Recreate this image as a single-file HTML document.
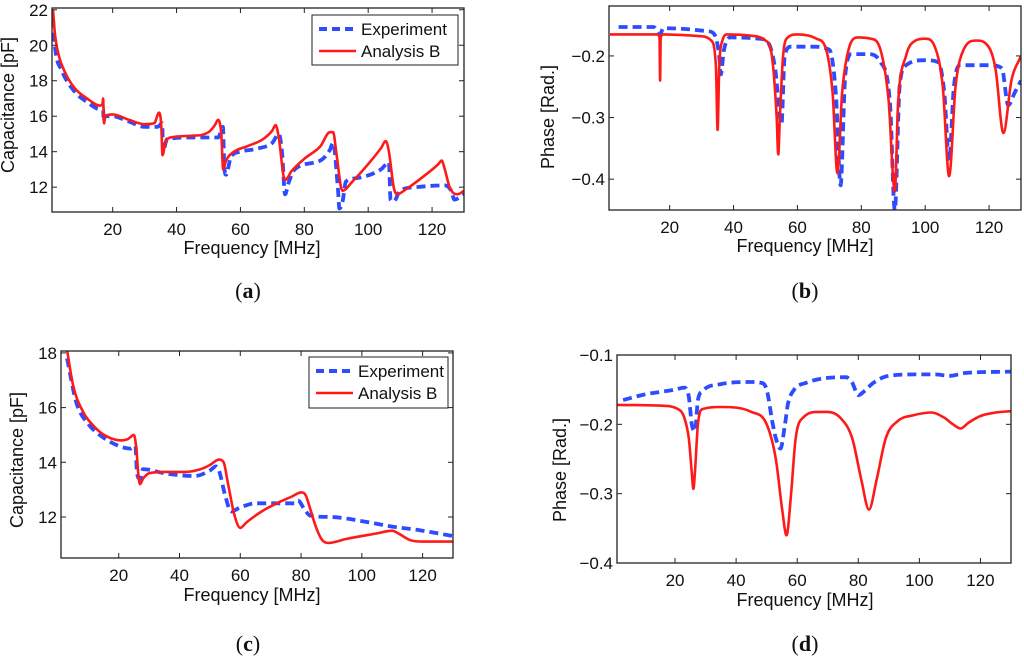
<!DOCTYPE html>
<html><head><meta charset="utf-8">
<style>
html,body{margin:0;padding:0;background:#fff;}
svg{display:block;font-family:"Liberation Sans",Arial,sans-serif;}
</style></head>
<body>
<svg id="fig" width="1024" height="656" viewBox="0 0 1024 656" xmlns="http://www.w3.org/2000/svg"></svg>
<script>
// ---- Data ----
const aExpX=[1.3,2,4,8,12,16,17,17.2,17.5,20,25,30,34,35.5,35.8,37,45,53,54.5,55,55.5,57,60,66,70,72,73,74,75,77,85,88,89,90.5,91,92,93,96,104,106.5,107,108,110,115,124,126,127,130];
const aExpY=[21.5,19.8,18.6,17.4,16.8,16.4,16.4,15.7,16.0,16.0,15.7,15.4,15.4,15.6,14.0,14.7,14.8,14.8,15.4,13.0,12.7,13.7,14.0,14.2,14.5,15.0,14.0,11.6,12.2,13.0,13.5,14.1,14.5,12,10.8,11.2,12.3,12.5,13.0,13.4,11.3,11.2,11.8,12.0,12.1,11.8,11.3,11.6];
const aAnaX=[1.3,2,3,5,8,12,16,16.8,17,17.3,17.6,20,25,30,33,34.5,35.2,35.6,36.5,38,45,50,52,53,54,54.6,55.5,58,62,67,70,71,72,73.5,74,76,80,85,88,89,90,91.5,92,95,100,104,105.5,106.5,108,109,112,118,122,123,124,125.5,126.5,128,130];
const aAnaY=[22,20.5,19.5,18.5,17.6,17.0,16.6,16.7,17.0,15.6,16.0,16.1,15.8,15.55,15.6,16.2,15.5,13.8,14.5,14.8,14.9,15.1,15.5,15.8,15,13.0,13.5,14.0,14.3,14.7,15.2,15.5,14.8,12.6,12.4,12.9,13.6,14.3,15.1,15.1,14,12,11.8,12.3,13.3,14.2,14.6,14,12,11.6,11.9,12.7,13.3,13.5,13,12,11.7,11.6,11.8];
const bExpX=[4,15,17,18,32,34,35.5,36,37,39,48,51,53,55,56,58,65,70,72,73.5,75,77,82,86,89,90.5,92,94,100,104,106,107.5,109,111,120,124,126,128,130];
const bExpY=[-0.153,-0.153,-0.165,-0.155,-0.16,-0.165,-0.2,-0.23,-0.19,-0.17,-0.172,-0.18,-0.22,-0.31,-0.2,-0.185,-0.185,-0.19,-0.26,-0.41,-0.23,-0.197,-0.197,-0.21,-0.28,-0.45,-0.25,-0.215,-0.207,-0.21,-0.26,-0.37,-0.25,-0.215,-0.215,-0.22,-0.28,-0.26,-0.24];
const bAnaX=[1.3,16,16.8,17,17.2,18,30,33,34.5,35,35.5,36.5,38,45,50,52,53.5,54,54.5,55.5,57,60,66,69,71,72.5,74,76,79,83,86,88.5,90.5,91.5,94,97,100,103,105.5,107.5,109.5,112,116,119,122,124.5,127,130];
const bAnaY=[-0.165,-0.165,-0.17,-0.24,-0.17,-0.165,-0.168,-0.175,-0.22,-0.32,-0.22,-0.175,-0.165,-0.167,-0.175,-0.2,-0.3,-0.36,-0.3,-0.2,-0.17,-0.165,-0.172,-0.19,-0.26,-0.39,-0.26,-0.19,-0.17,-0.172,-0.19,-0.27,-0.42,-0.28,-0.2,-0.175,-0.172,-0.185,-0.25,-0.395,-0.25,-0.19,-0.175,-0.18,-0.22,-0.325,-0.24,-0.2];
const cExpX=[3,6,10,15,20,24,25.5,26,27,28,35,45,50,52,53,55,57,60,65,70,78,79,81,83,90,100,110,120,130];
const cExpY=[17.8,16.2,15.4,14.9,14.6,14.5,14.6,13.6,13.4,13.75,13.6,13.5,13.7,13.85,13.7,12.8,12.2,12.35,12.5,12.5,12.5,12.6,12.3,12.05,12.0,11.85,11.65,11.5,11.3];
const cAnaX=[3,5,8,12,16,21,23,25,25.7,26.5,27,28,30,35,42,47,50,53,54.5,56,58,60,62,67,72,77,80,81.5,83,85,87,89,95,105,110,112,116,120,130];
const cAnaY=[18.1,16.8,15.9,15.3,14.95,14.8,14.85,15.0,14.6,13.5,13.2,13.4,13.6,13.65,13.65,13.75,13.9,14.1,14.0,13.2,12.1,11.6,11.8,12.2,12.5,12.75,12.9,12.8,12.3,11.6,11.15,11.05,11.2,11.4,11.5,11.4,11.15,11.1,11.1];
const dExpX=[3,10,20,23,24.5,25.5,26.5,27.5,29,35,45,48,50,52,53,54.5,56,57,59,63,70,76,78,80,82,85,90,100,105,110,115,130];
const dExpY=[-0.165,-0.157,-0.15,-0.147,-0.16,-0.2,-0.21,-0.165,-0.152,-0.142,-0.139,-0.14,-0.15,-0.2,-0.22,-0.235,-0.2,-0.17,-0.15,-0.14,-0.133,-0.132,-0.14,-0.158,-0.152,-0.14,-0.13,-0.128,-0.128,-0.13,-0.126,-0.124];
const dAnaX=[1,15,21,23,24.5,25.5,26,26.5,27.5,29,35,45,50,53,55,56.5,58,59.5,62,67,70,74,78,81,83.5,86,89,93,98,104,108,111,113.5,116,120,125,130];
const dAnaY=[-0.172,-0.173,-0.178,-0.19,-0.22,-0.27,-0.293,-0.27,-0.2,-0.178,-0.175,-0.182,-0.2,-0.25,-0.32,-0.36,-0.3,-0.22,-0.19,-0.182,-0.182,-0.19,-0.22,-0.28,-0.323,-0.28,-0.22,-0.195,-0.187,-0.183,-0.19,-0.2,-0.206,-0.198,-0.188,-0.183,-0.181];
const xTicks=[20,40,60,80,100,120];
const aYTicks=[12,14,16,18,20,22];
const bYTicks=[-0.4,-0.3,-0.2];
const cYTicks=[12,14,16,18];
const dYTicks=[-0.4,-0.3,-0.2,-0.1];

const NS="http://www.w3.org/2000/svg";
const svg=document.getElementById('fig');
function mk(tag,attrs,parent){const e=document.createElementNS(NS,tag);for(const k in attrs)e.setAttribute(k,attrs[k]);(parent||svg).appendChild(e);return e;}
function fmt(v){if(Number.isInteger(v))return String(v);return (v<0?'\u2212':'')+Math.abs(v).toFixed(1);}

// monotone cubic path (Fritsch-Carlson) in pixel space
function monoPath(px,py){
  const n=px.length;const d=[],m=[];
  for(let i=0;i<n-1;i++)d.push((py[i+1]-py[i])/(px[i+1]-px[i]));
  m[0]=d[0];m[n-1]=d[n-2];
  for(let i=1;i<n-1;i++){m[i]=(d[i-1]*d[i]<=0)?0:(d[i-1]+d[i])/2;}
  for(let i=0;i<n-1;i++){
    if(d[i]===0){m[i]=0;m[i+1]=0;continue;}
    const a=m[i]/d[i],b=m[i+1]/d[i],s=a*a+b*b;
    if(s>9){const t=3/Math.sqrt(s);m[i]=t*a*d[i];m[i+1]=t*b*d[i];}
  }
  let p='M'+px[0].toFixed(1)+','+py[0].toFixed(1);
  for(let i=0;i<n-1;i++){
    const h=(px[i+1]-px[i])/3;
    p+=' C'+(px[i]+h).toFixed(1)+','+(py[i]+m[i]*h).toFixed(1)+' '+(px[i+1]-h).toFixed(1)+','+(py[i+1]-m[i+1]*h).toFixed(1)+' '+px[i+1].toFixed(1)+','+py[i+1].toFixed(1);
  }
  return p;
}

function panel(id,L,T,R,B,xmin,xmax,ymin,ymax,yTicks,ylabel,ylx,yly,xlx,xly,capX,capY,cap,series,legend){
  const g=mk('g',{});
  
  
  const sx=v=>L+(v-xmin)/(xmax-xmin)*(R-L);
  const sy=v=>B-(v-ymin)/(ymax-ymin)*(B-T);
  const clipId='clip'+id;
  const cp=mk('clipPath',{id:clipId},g);mk('rect',{x:L,y:T,width:R-L,height:B-T},cp);
  series.forEach(s=>{
    const d=monoPath(s.xs.map(sx),s.ys.map(sy));
    const p=mk('path',{d:d,fill:'none',stroke:s.color,'stroke-width':s.w,'stroke-dasharray':s.dash||'none','stroke-linejoin':'round','clip-path':'url(#'+clipId+')'},g);
    
    
  });
  const box=mk('rect',{x:L,y:T,width:R-L,height:B-T,fill:'none',stroke:'#222','stroke-width':1.3},g);
  
  
  xTicks.forEach(t=>{
    const x=sx(t);
    mk('line',{x1:x,y1:B,x2:x,y2:B-5,stroke:'#222'},g);
    mk('line',{x1:x,y1:T,x2:x,y2:T+5,stroke:'#222'},g);
    const tx=mk('text',{x:x,y:B+23,'font-size':17,'text-anchor':'middle',fill:'#111'},g);
    tx.textContent=t;
    
    
  });
  yTicks.forEach(t=>{
    const y=sy(t);
    mk('line',{x1:L,y1:y,x2:L+5,y2:y,stroke:'#222'},g);
    mk('line',{x1:R,y1:y,x2:R-5,y2:y,stroke:'#222'},g);
    const tx=mk('text',{x:L-4,y:y+6,'font-size':17,'text-anchor':'end',fill:'#111'},g);
    tx.textContent=fmt(t);
    
    
  });
  const xl=mk('text',{x:xlx,y:xly,'font-size':18,'text-anchor':'middle',fill:'#111'},g);
  xl.textContent='Frequency [MHz]';
  
  
  const yl=mk('text',{x:0,y:0,'font-size':18,'text-anchor':'middle',fill:'#111',transform:'translate('+ylx+','+yly+') rotate(-90)'},g);
  yl.textContent=ylabel;
  
  
  const c=mk('text',{x:capX,y:capY,'font-size':22,'text-anchor':'middle','font-family':'Liberation Serif, serif',fill:'#111'},g);
  c.innerHTML='(<tspan font-weight="bold">'+cap+'</tspan>)';
  
  
  if(legend){
    const [lx,ly,lw,lh]=legend;
    const lg=mk('g',{},g);
    
    
    mk('rect',{x:lx,y:ly,width:lw,height:lh,fill:'#fff',stroke:'#222','stroke-width':1},lg);
    const rows=[['Experiment','#2d4cff','8,5',4],['Analysis B','#ff1a1a','none',2.6]];
    rows.forEach((r,i)=>{
      const yy=ly+14+i*22;
      const ln=mk('line',{x1:lx+7,y1:yy,x2:lx+44,y2:yy,stroke:r[1],'stroke-width':r[3],'stroke-dasharray':r[2]},lg);
      
      
      const t=mk('text',{x:lx+49,y:yy+6,'font-size':17,fill:'#111'},lg);
      t.textContent=r[0];
      
      
    });
  }
}
const blue='#2d4cff',red='#ff1a1a';
panel('a',52,8,464,212,1,130,10.6,22.1,aYTicks,'Capacitance [pF]',14,105,252,254,248,298,'a',
 [{xs:aExpX,ys:aExpY,color:blue,w:3.8,dash:'9,5',name:'experiment-line'},{xs:aAnaX,ys:aAnaY,color:red,w:2.6,name:'analysis-b-line'}],[312,15,146,50]);
panel('b',609,6,1021,210,1,130,-0.45,-0.119,bYTicks,'Phase [Rad.]',554,117,805,252,805,298,'b',
 [{xs:bExpX,ys:bExpY,color:blue,w:3.8,dash:'9,5',name:'experiment-line'},{xs:bAnaX,ys:bAnaY,color:red,w:2.6,name:'analysis-b-line'}],null);
panel('c',61,351,453,558,1,130,10.5,18.07,cYTicks,'Capacitance [pF]',23,460,252,601,248,651,'c',
 [{xs:cExpX,ys:cExpY,color:blue,w:3.8,dash:'9,5',name:'experiment-line'},{xs:cAnaX,ys:cAnaY,color:red,w:2.6,name:'analysis-b-line'}],[309,357,139,51]);
panel('d',617,355,1011,563,1,130,-0.4,-0.1,dYTicks,'Phase [Rad.]',566,470,805,606,805,651,'d',
 [{xs:dExpX,ys:dExpY,color:blue,w:3.8,dash:'9,5',name:'experiment-line'},{xs:dAnaX,ys:dAnaY,color:red,w:2.6,name:'analysis-b-line'}],null);
</script>
</body></html>
